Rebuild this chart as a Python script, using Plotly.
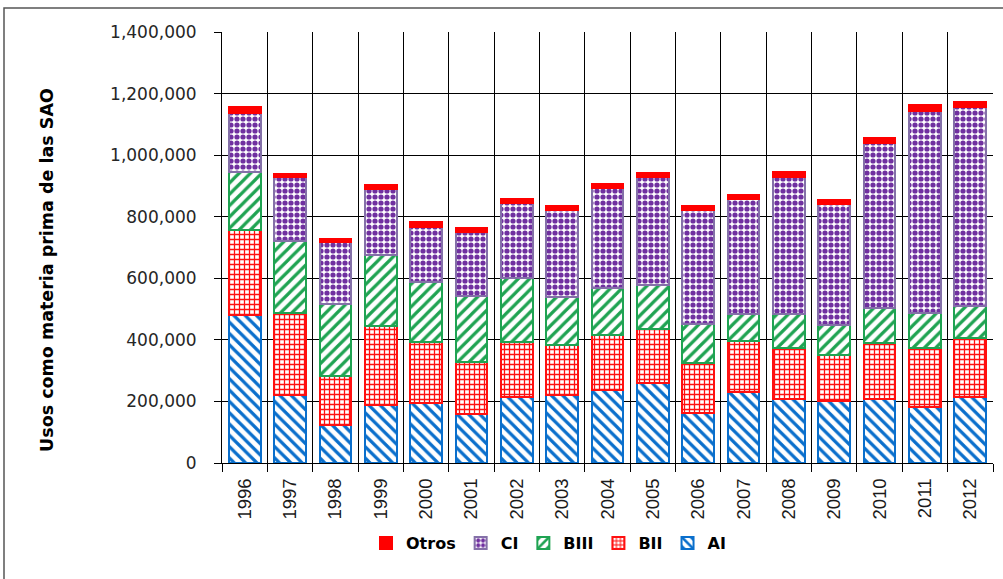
import plotly.graph_objects as go

years = ["1996", "1997", "1998", "1999", "2000", "2001", "2002", "2003", "2004",
         "2005", "2006", "2007", "2008", "2009", "2010", "2011", "2012"]
AI = [480000, 221000, 123000, 188000, 194000, 158000, 215000, 221000, 237000,
      259000, 161000, 232000, 207000, 201000, 207000, 183000, 215000]
BII = [277000, 265000, 160000, 258000, 198000, 171000, 177000, 162000, 179000,
       176000, 165000, 164000, 168000, 150000, 182000, 192000, 192000]
BIII = [189000, 235000, 234000, 230000, 195000, 214000, 208000, 155000, 151000,
        143000, 124000, 87000, 108000, 97000, 115000, 113000, 104000]
CI = [191000, 209000, 202000, 213000, 181000, 206000, 245000, 284000, 325000,
      350000, 372000, 374000, 447000, 393000, 536000, 656000, 644000]
Otros = [18000, 9000, 8000, 13000, 16000, 13000, 11000, 13000, 13000,
         15000, 13000, 13000, 14000, 13000, 15000, 19000, 18000]

y_ticks = [0, 200000, 400000, 600000, 800000, 1000000, 1200000, 1400000]
y_title = "Usos como materia prima de las SAO"

fig = go.Figure()

def add(name, vals, fg, line, shape, size, solidity):
    fig.add_trace(go.Bar(
        name=name, x=years, y=vals,
        marker=dict(
            color="white",
            line=dict(color=line, width=2),
            pattern=dict(shape=shape, fgcolor=fg, bgcolor="white",
                         size=size, solidity=solidity, fillmode="replace",
                         fgopacity=1),
        ),
    ))

add("AI", AI, "#0A6FCC", "#0A6FCC", "\\", 8, 0.4)
add("BII", BII, "#FF1010", "#FF1010", "+", 5, 0.45)
add("BIII", BIII, "#1FA352", "#1FA352", "/", 8, 0.4)
add("CI", CI, "#7030A0", "#8470A8", ".", 6, 0.6)
fig.add_trace(go.Bar(
    name="Otros", x=years, y=Otros,
    marker=dict(color="#FF0000", line=dict(color="#FF0000", width=2)),
))

L, R, T, B = 222, 10, 32, 116
W, H = 1003, 579
pw = W - L - R
ph = H - T - B

def px(x):
    return (x - L) / pw

def py(y):
    return (H - B - y) / ph

fig.update_layout(
    width=W, height=H,
    margin=dict(l=L, r=R, t=T, b=B),
    barmode="stack",
    bargap=0.3,
    plot_bgcolor="white",
    paper_bgcolor="white",
    font=dict(family="DejaVu Sans", color="#1a1a1a"),
    legend=dict(
        orientation="h", traceorder="reversed",
        x=px(366), xanchor="left", y=py(526), yanchor="top",
        font=dict(family="DejaVu Sans", size=16, color="#000000", weight="bold"),
        itemwidth=30, itemsizing="constant", bgcolor="rgba(0,0,0,0)",
        tracegroupgap=0,
    ),
    xaxis=dict(
        type="category",
        tickson="boundaries",
        ticks="outside", ticklen=8, tickcolor="#000000",
        tickangle=-90,
        tickfont=dict(family="Liberation Sans", size=18.5, color="#1a1a1a"),
        showgrid=True, gridcolor="#000000", gridwidth=1,
        showline=True, linecolor="#000000", linewidth=1,
        ticklabelstandoff=7,
        mirror=False,
    ),
    yaxis=dict(
        range=[0, 1400000],
        tickvals=y_ticks,
        tickformat=",d",
        ticks="outside", ticklen=7, tickcolor="#000000",
        tickfont=dict(family="DejaVu Sans", size=17, color="#262626"),
        showgrid=True, gridcolor="#000000", gridwidth=1,
        showline=True, linecolor="#000000", linewidth=1,
        zeroline=False,
        ticklabelstandoff=14,
    ),
    annotations=[dict(
        text=y_title, textangle=-90, showarrow=False,
        xref="paper", yref="paper", x=px(47), y=py(270),
        xanchor="center", yanchor="middle",
        font=dict(family="DejaVu Sans", size=17.5, color="#000000", weight="bold"),
    )],
    shapes=[dict(
        type="rect", xref="paper", yref="paper",
        x0=px(4), x1=px(1010), y0=py(8), y1=py(590),
        line=dict(color="#555555", width=1.5), fillcolor="rgba(0,0,0,0)",
        layer="below",
    )],
)

fig.write_html("out.html",
               config={"displayModeBar": False},
               post_script="document.body.style.margin='0';document.body.style.overflow='hidden';")
